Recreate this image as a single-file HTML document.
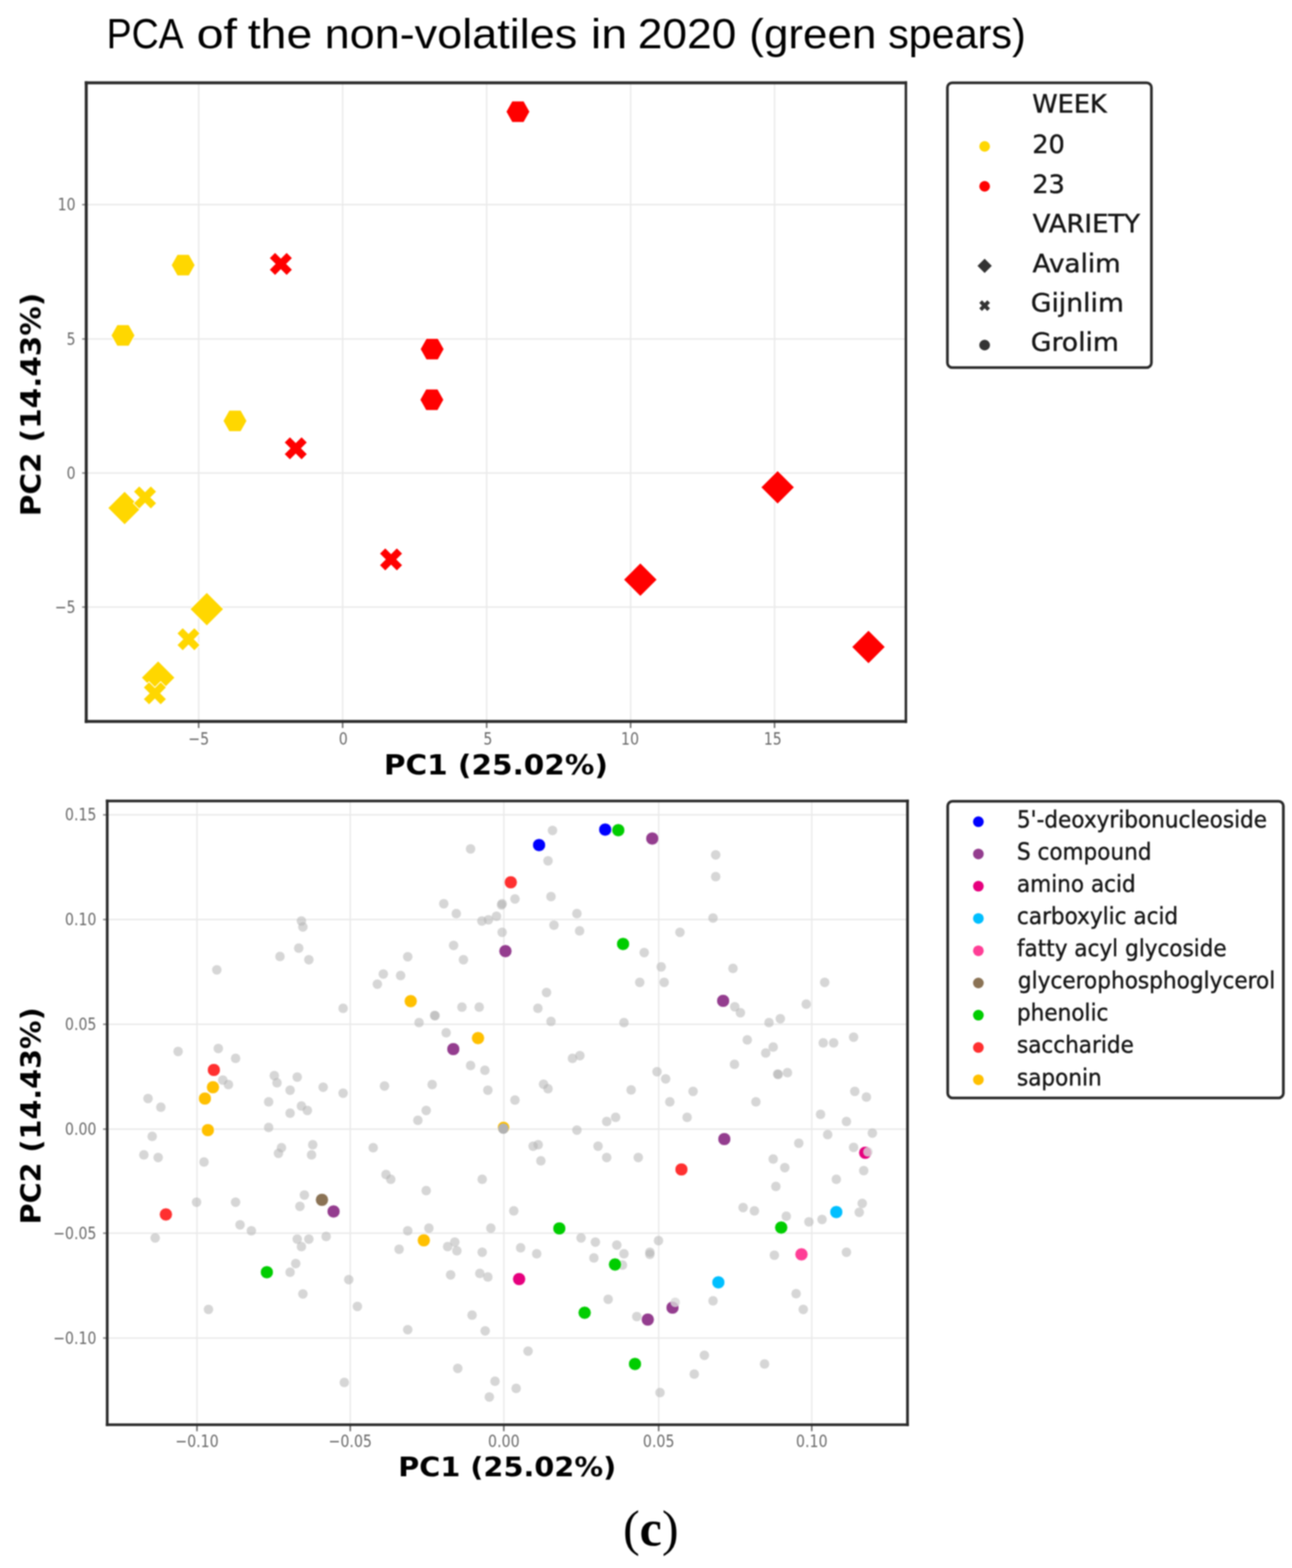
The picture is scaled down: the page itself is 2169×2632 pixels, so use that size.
<!DOCTYPE html>
<html lang="en"><head><meta charset="utf-8"><title>PCA of the non-volatiles in 2020 (green spears)</title>
<style>html,body{margin:0;padding:0;background:#fff}svg{display:block}</style></head>
<body>
<svg width="2169" height="2632" viewBox="0 0 2169 2632" role="img" aria-label="PCA score and loading plots">
<rect width="2169" height="2632" fill="#fff"/>
<g style="filter:blur(0.9px)">
<text id="title" y="81" font-family="Liberation Sans, sans-serif" font-size="71" fill="#000" xml:space="preserve"><tspan x="178.9" textLength="126.0" lengthAdjust="spacingAndGlyphs">PCA</tspan> <tspan x="330.0" textLength="68.0" lengthAdjust="spacingAndGlyphs">of</tspan> <tspan x="416.0" textLength="108.2" lengthAdjust="spacingAndGlyphs">the</tspan> <tspan x="544.9" textLength="424.2" lengthAdjust="spacingAndGlyphs">non-volatiles</tspan> <tspan x="992.1" textLength="60.7" lengthAdjust="spacingAndGlyphs">in</tspan> <tspan x="1070.8" textLength="165.3" lengthAdjust="spacingAndGlyphs">2020</tspan> <tspan x="1257.8" textLength="213.5" lengthAdjust="spacingAndGlyphs">(green</tspan> <tspan x="1490.9" textLength="231.2" lengthAdjust="spacingAndGlyphs">spears)</tspan></text>
<line x1="333.5" y1="139" x2="333.5" y2="1211" stroke="#eaeaea" stroke-width="2.4"/>
<line x1="575.2" y1="139" x2="575.2" y2="1211" stroke="#eaeaea" stroke-width="2.4"/>
<line x1="817" y1="139" x2="817" y2="1211" stroke="#eaeaea" stroke-width="2.4"/>
<line x1="1058.7" y1="139" x2="1058.7" y2="1211" stroke="#eaeaea" stroke-width="2.4"/>
<line x1="1300.3" y1="139" x2="1300.3" y2="1211" stroke="#eaeaea" stroke-width="2.4"/>
<line x1="144.8" y1="343.5" x2="1520.8" y2="343.5" stroke="#eaeaea" stroke-width="2.4"/>
<line x1="144.8" y1="569" x2="1520.8" y2="569" stroke="#eaeaea" stroke-width="2.4"/>
<line x1="144.8" y1="794" x2="1520.8" y2="794" stroke="#eaeaea" stroke-width="2.4"/>
<line x1="144.8" y1="1019" x2="1520.8" y2="1019" stroke="#eaeaea" stroke-width="2.4"/>
<polygon points="209.20,824.52 237.48,852.80 209.20,881.08 180.92,852.80" fill="#ffd700" stroke="#fff" stroke-width="1.5" stroke-linejoin="miter"/>
<polygon points="347.20,994.22 375.48,1022.50 347.20,1050.78 318.92,1022.50" fill="#ffd700" stroke="#fff" stroke-width="1.5" stroke-linejoin="miter"/>
<polygon points="265.50,1109.22 293.78,1137.50 265.50,1165.78 237.22,1137.50" fill="#ffd700" stroke="#fff" stroke-width="1.5" stroke-linejoin="miter"/>
<polygon points="1305.50,789.72 1333.78,818.00 1305.50,846.28 1277.22,818.00" fill="#ff0000" stroke="#fff" stroke-width="1.5" stroke-linejoin="miter"/>
<polygon points="1075.00,944.72 1103.28,973.00 1075.00,1001.28 1046.72,973.00" fill="#ff0000" stroke="#fff" stroke-width="1.5" stroke-linejoin="miter"/>
<polygon points="1458.00,1057.72 1486.28,1086.00 1458.00,1114.28 1429.72,1086.00" fill="#ff0000" stroke="#fff" stroke-width="1.5" stroke-linejoin="miter"/>
<polygon points="233.75,815.50 243.50,825.25 253.25,815.50 263.00,825.25 253.25,835.00 263.00,844.75 253.25,854.50 243.50,844.75 233.75,854.50 224.00,844.75 233.75,835.00 224.00,825.25" fill="#ffd700" stroke="#fff" stroke-width="1.5" stroke-linejoin="miter"/>
<polygon points="306.75,1053.50 316.50,1063.25 326.25,1053.50 336.00,1063.25 326.25,1073.00 336.00,1082.75 326.25,1092.50 316.50,1082.75 306.75,1092.50 297.00,1082.75 306.75,1073.00 297.00,1063.25" fill="#ffd700" stroke="#fff" stroke-width="1.5" stroke-linejoin="miter"/>
<polygon points="250.25,1144.20 260.00,1153.95 269.75,1144.20 279.50,1153.95 269.75,1163.70 279.50,1173.45 269.75,1183.20 260.00,1173.45 250.25,1183.20 240.50,1173.45 250.25,1163.70 240.50,1153.95" fill="#ffd700" stroke="#fff" stroke-width="1.5" stroke-linejoin="miter"/>
<polygon points="461.75,423.50 471.50,433.25 481.25,423.50 491.00,433.25 481.25,443.00 491.00,452.75 481.25,462.50 471.50,452.75 461.75,462.50 452.00,452.75 461.75,443.00 452.00,433.25" fill="#ff0000" stroke="#fff" stroke-width="1.5" stroke-linejoin="miter"/>
<polygon points="486.75,733.00 496.50,742.75 506.25,733.00 516.00,742.75 506.25,752.50 516.00,762.25 506.25,772.00 496.50,762.25 486.75,772.00 477.00,762.25 486.75,752.50 477.00,742.75" fill="#ff0000" stroke="#fff" stroke-width="1.5" stroke-linejoin="miter"/>
<polygon points="646.75,919.50 656.50,929.25 666.25,919.50 676.00,929.25 666.25,939.00 676.00,948.75 666.25,958.50 656.50,948.75 646.75,958.50 637.00,948.75 646.75,939.00 637.00,929.25" fill="#ff0000" stroke="#fff" stroke-width="1.5" stroke-linejoin="miter"/>
<polygon points="327.50,445.00 317.50,462.93 297.50,462.93 287.50,445.00 297.50,427.07 317.50,427.07" fill="#ffd700" stroke="#fff" stroke-width="1.5" stroke-linejoin="miter"/>
<polygon points="226.50,563.00 216.50,580.93 196.50,580.93 186.50,563.00 196.50,545.07 216.50,545.07" fill="#ffd700" stroke="#fff" stroke-width="1.5" stroke-linejoin="miter"/>
<polygon points="414.50,706.50 404.50,724.43 384.50,724.43 374.50,706.50 384.50,688.57 404.50,688.57" fill="#ffd700" stroke="#fff" stroke-width="1.5" stroke-linejoin="miter"/>
<polygon points="889.50,187.50 879.50,205.43 859.50,205.43 849.50,187.50 859.50,169.57 879.50,169.57" fill="#ff0000" stroke="#fff" stroke-width="1.5" stroke-linejoin="miter"/>
<polygon points="745.50,586.00 735.50,603.93 715.50,603.93 705.50,586.00 715.50,568.07 735.50,568.07" fill="#ff0000" stroke="#fff" stroke-width="1.5" stroke-linejoin="miter"/>
<polygon points="745.00,671.00 735.00,688.93 715.00,688.93 705.00,671.00 715.00,653.07 735.00,653.07" fill="#ff0000" stroke="#fff" stroke-width="1.5" stroke-linejoin="miter"/>
<line x1="333.5" y1="1211" x2="333.5" y2="1222" stroke="#6a6a6a" stroke-width="2.5"/>
<line x1="575.2" y1="1211" x2="575.2" y2="1222" stroke="#6a6a6a" stroke-width="2.5"/>
<line x1="817" y1="1211" x2="817" y2="1222" stroke="#6a6a6a" stroke-width="2.5"/>
<line x1="1058.7" y1="1211" x2="1058.7" y2="1222" stroke="#6a6a6a" stroke-width="2.5"/>
<line x1="1300.3" y1="1211" x2="1300.3" y2="1222" stroke="#6a6a6a" stroke-width="2.5"/>
<line x1="137.8" y1="343.5" x2="144.8" y2="343.5" stroke="#8a8a8a" stroke-width="2.5"/>
<line x1="137.8" y1="569" x2="144.8" y2="569" stroke="#8a8a8a" stroke-width="2.5"/>
<line x1="137.8" y1="794" x2="144.8" y2="794" stroke="#8a8a8a" stroke-width="2.5"/>
<line x1="137.8" y1="1019" x2="144.8" y2="1019" stroke="#8a8a8a" stroke-width="2.5"/>
<line x1="144.8" y1="136.5" x2="144.8" y2="1213.5" stroke="#2b2b2b" stroke-width="5"/>
<line x1="1520.8" y1="136.5" x2="1520.8" y2="1213.5" stroke="#2b2b2b" stroke-width="4.2"/>
<line x1="142.3" y1="139" x2="1522.8999999999999" y2="139" stroke="#2b2b2b" stroke-width="5"/>
<line x1="142.3" y1="1211" x2="1522.8999999999999" y2="1211" stroke="#2b2b2b" stroke-width="5"/>
<text transform="translate(333.50 1250.00) scale(0.8200 1.0000)" font-family="DejaVu Sans, Liberation Sans, sans-serif" font-size="29" font-weight="normal" fill="#6a6a6a" text-anchor="middle" class="tk">−5</text>
<text transform="translate(576.20 1250.00) scale(0.8200 1.0000)" font-family="DejaVu Sans, Liberation Sans, sans-serif" font-size="29" font-weight="normal" fill="#6a6a6a" text-anchor="middle" class="tk">0</text>
<text transform="translate(819.00 1250.00) scale(0.8200 1.0000)" font-family="DejaVu Sans, Liberation Sans, sans-serif" font-size="29" font-weight="normal" fill="#6a6a6a" text-anchor="middle" class="tk">5</text>
<text transform="translate(1057.70 1250.00) scale(0.8200 1.0000)" font-family="DejaVu Sans, Liberation Sans, sans-serif" font-size="29" font-weight="normal" fill="#6a6a6a" text-anchor="middle" class="tk">10</text>
<text transform="translate(1297.30 1250.00) scale(0.8200 1.0000)" font-family="DejaVu Sans, Liberation Sans, sans-serif" font-size="29" font-weight="normal" fill="#6a6a6a" text-anchor="middle" class="tk">15</text>
<text transform="translate(127.00 353.00) scale(0.8200 1.0000)" font-family="DejaVu Sans, Liberation Sans, sans-serif" font-size="29" font-weight="normal" fill="#6a6a6a" text-anchor="end" class="tk">10</text>
<text transform="translate(127.00 578.50) scale(0.8200 1.0000)" font-family="DejaVu Sans, Liberation Sans, sans-serif" font-size="29" font-weight="normal" fill="#6a6a6a" text-anchor="end" class="tk">5</text>
<text transform="translate(127.00 803.50) scale(0.8200 1.0000)" font-family="DejaVu Sans, Liberation Sans, sans-serif" font-size="29" font-weight="normal" fill="#6a6a6a" text-anchor="end" class="tk">0</text>
<text transform="translate(127.00 1028.50) scale(0.8200 1.0000)" font-family="DejaVu Sans, Liberation Sans, sans-serif" font-size="29" font-weight="normal" fill="#6a6a6a" text-anchor="end" class="tk">−5</text>
<text transform="translate(832.50 1300.00) scale(1.0550 1.0000)" font-family="DejaVu Sans, Liberation Sans, sans-serif" font-size="47" font-weight="bold" fill="#000" text-anchor="middle" id="xl1">PC1 (25.02%)</text>
<text transform="translate(68.00 679.00) rotate(-90) scale(1.0520 1.0000)" font-family="DejaVu Sans, Liberation Sans, sans-serif" font-size="47" font-weight="bold" fill="#000" text-anchor="middle" id="yl1">PC2 (14.43%)</text>
<rect x="1590.5" y="139" width="342.5" height="478" rx="8" fill="#fff" stroke="#2b2b2b" stroke-width="4.5"/>
<text transform="translate(1733.00 189.40)" font-family="DejaVu Sans, Liberation Sans, sans-serif" font-size="43" font-weight="normal" fill="#161616" text-anchor="start" class="lg1" stroke="#161616" stroke-width="0.7">WEEK</text>
<text transform="translate(1733.00 256.90)" font-family="DejaVu Sans, Liberation Sans, sans-serif" font-size="43" font-weight="normal" fill="#161616" text-anchor="start" class="lg1" stroke="#161616" stroke-width="0.7">20</text>
<text transform="translate(1733.00 323.65)" font-family="DejaVu Sans, Liberation Sans, sans-serif" font-size="43" font-weight="normal" fill="#161616" text-anchor="start" class="lg1" stroke="#161616" stroke-width="0.7">23</text>
<text transform="translate(1733.80 389.90) scale(1.0100 1.0000)" font-family="DejaVu Sans, Liberation Sans, sans-serif" font-size="43" font-weight="normal" fill="#161616" text-anchor="start" class="lg1" stroke="#161616" stroke-width="0.7">VARIETY</text>
<text transform="translate(1733.50 456.90) scale(1.0230 1.0000)" font-family="DejaVu Sans, Liberation Sans, sans-serif" font-size="43" font-weight="normal" fill="#161616" text-anchor="start" class="lg1" stroke="#161616" stroke-width="0.7">Avalim</text>
<text transform="translate(1730.50 523.15) scale(1.0400 1.0000)" font-family="DejaVu Sans, Liberation Sans, sans-serif" font-size="43" font-weight="normal" fill="#161616" text-anchor="start" class="lg1" stroke="#161616" stroke-width="0.7">Gijnlim</text>
<text transform="translate(1730.50 589.40) scale(1.0400 1.0000)" font-family="DejaVu Sans, Liberation Sans, sans-serif" font-size="43" font-weight="normal" fill="#161616" text-anchor="start" class="lg1" stroke="#161616" stroke-width="0.7">Grolim</text>
<circle cx="1653" cy="245.75" r="9" fill="#ffd700"/>
<circle cx="1653" cy="312.75" r="9" fill="#ff0000"/>
<polygon points="1653,434.25 1665,446.25 1653,458.25 1641,446.25" fill="#333"/>
<polygon points="1648.50,504.00 1653.00,508.50 1657.50,504.00 1662.00,508.50 1657.50,513.00 1662.00,517.50 1657.50,522.00 1653.00,517.50 1648.50,522.00 1644.00,517.50 1648.50,513.00 1644.00,508.50" fill="#333"/>
<circle cx="1653" cy="579.25" r="9" fill="#333"/>
<line x1="330.7" y1="1344.5" x2="330.7" y2="2391.5" stroke="#eaeaea" stroke-width="2.4"/>
<line x1="588" y1="1344.5" x2="588" y2="2391.5" stroke="#eaeaea" stroke-width="2.4"/>
<line x1="845.8" y1="1344.5" x2="845.8" y2="2391.5" stroke="#eaeaea" stroke-width="2.4"/>
<line x1="1105.8" y1="1344.5" x2="1105.8" y2="2391.5" stroke="#eaeaea" stroke-width="2.4"/>
<line x1="1362.8" y1="1344.5" x2="1362.8" y2="2391.5" stroke="#eaeaea" stroke-width="2.4"/>
<line x1="180" y1="1367.8" x2="1523.5" y2="1367.8" stroke="#eaeaea" stroke-width="2.4"/>
<line x1="180" y1="1543.5" x2="1523.5" y2="1543.5" stroke="#eaeaea" stroke-width="2.4"/>
<line x1="180" y1="1719.3" x2="1523.5" y2="1719.3" stroke="#eaeaea" stroke-width="2.4"/>
<line x1="180" y1="1895.3" x2="1523.5" y2="1895.3" stroke="#eaeaea" stroke-width="2.4"/>
<line x1="180" y1="2070" x2="1523.5" y2="2070" stroke="#eaeaea" stroke-width="2.4"/>
<line x1="180" y1="2246" x2="1523.5" y2="2246" stroke="#eaeaea" stroke-width="2.4"/>
<circle cx="790.0" cy="1425.0" r="8.0" fill="#b4b4b4" fill-opacity="0.55"/>
<circle cx="745.0" cy="1517.0" r="8.0" fill="#b4b4b4" fill-opacity="0.55"/>
<circle cx="842.0" cy="1519.0" r="8.0" fill="#b4b4b4" fill-opacity="0.55"/>
<circle cx="843.0" cy="1517.0" r="8.0" fill="#b4b4b4" fill-opacity="0.55"/>
<circle cx="766.0" cy="1533.5" r="8.0" fill="#b4b4b4" fill-opacity="0.55"/>
<circle cx="809.0" cy="1546.0" r="8.0" fill="#b4b4b4" fill-opacity="0.55"/>
<circle cx="820.0" cy="1544.0" r="8.0" fill="#b4b4b4" fill-opacity="0.55"/>
<circle cx="833.5" cy="1538.0" r="8.0" fill="#b4b4b4" fill-opacity="0.55"/>
<circle cx="506.0" cy="1546.0" r="8.0" fill="#b4b4b4" fill-opacity="0.55"/>
<circle cx="508.5" cy="1556.0" r="8.0" fill="#b4b4b4" fill-opacity="0.55"/>
<circle cx="843.0" cy="1565.0" r="8.0" fill="#b4b4b4" fill-opacity="0.55"/>
<circle cx="761.5" cy="1587.0" r="8.0" fill="#b4b4b4" fill-opacity="0.55"/>
<circle cx="501.5" cy="1591.5" r="8.0" fill="#b4b4b4" fill-opacity="0.55"/>
<circle cx="470.0" cy="1605.5" r="8.0" fill="#b4b4b4" fill-opacity="0.55"/>
<circle cx="518.5" cy="1611.0" r="8.0" fill="#b4b4b4" fill-opacity="0.55"/>
<circle cx="684.5" cy="1606.0" r="8.0" fill="#b4b4b4" fill-opacity="0.55"/>
<circle cx="778.0" cy="1611.0" r="8.0" fill="#b4b4b4" fill-opacity="0.55"/>
<circle cx="364.0" cy="1628.0" r="8.0" fill="#b4b4b4" fill-opacity="0.55"/>
<circle cx="643.5" cy="1635.0" r="8.0" fill="#b4b4b4" fill-opacity="0.55"/>
<circle cx="672.5" cy="1637.5" r="8.0" fill="#b4b4b4" fill-opacity="0.55"/>
<circle cx="633.5" cy="1652.0" r="8.0" fill="#b4b4b4" fill-opacity="0.55"/>
<circle cx="576.0" cy="1692.5" r="8.0" fill="#b4b4b4" fill-opacity="0.55"/>
<circle cx="775.5" cy="1690.5" r="8.0" fill="#b4b4b4" fill-opacity="0.55"/>
<circle cx="804.5" cy="1690.5" r="8.0" fill="#b4b4b4" fill-opacity="0.55"/>
<circle cx="729.5" cy="1704.5" r="8.0" fill="#b4b4b4" fill-opacity="0.55"/>
<circle cx="730.5" cy="1705.0" r="8.0" fill="#b4b4b4" fill-opacity="0.55"/>
<circle cx="703.5" cy="1716.5" r="8.0" fill="#b4b4b4" fill-opacity="0.55"/>
<circle cx="749.0" cy="1733.5" r="8.0" fill="#b4b4b4" fill-opacity="0.55"/>
<circle cx="299.0" cy="1765.0" r="8.0" fill="#b4b4b4" fill-opacity="0.55"/>
<circle cx="366.5" cy="1760.0" r="8.0" fill="#b4b4b4" fill-opacity="0.55"/>
<circle cx="395.5" cy="1776.5" r="8.0" fill="#b4b4b4" fill-opacity="0.55"/>
<circle cx="790.0" cy="1788.5" r="8.0" fill="#b4b4b4" fill-opacity="0.55"/>
<circle cx="814.0" cy="1796.5" r="8.0" fill="#b4b4b4" fill-opacity="0.55"/>
<circle cx="460.5" cy="1805.5" r="8.0" fill="#b4b4b4" fill-opacity="0.55"/>
<circle cx="499.0" cy="1808.0" r="8.0" fill="#b4b4b4" fill-opacity="0.55"/>
<circle cx="465.0" cy="1817.5" r="8.0" fill="#b4b4b4" fill-opacity="0.55"/>
<circle cx="374.0" cy="1813.0" r="8.0" fill="#b4b4b4" fill-opacity="0.55"/>
<circle cx="383.5" cy="1820.5" r="8.0" fill="#b4b4b4" fill-opacity="0.55"/>
<circle cx="542.5" cy="1825.0" r="8.0" fill="#b4b4b4" fill-opacity="0.55"/>
<circle cx="645.5" cy="1823.0" r="8.0" fill="#b4b4b4" fill-opacity="0.55"/>
<circle cx="725.5" cy="1820.5" r="8.0" fill="#b4b4b4" fill-opacity="0.55"/>
<circle cx="487.0" cy="1830.0" r="8.0" fill="#b4b4b4" fill-opacity="0.55"/>
<circle cx="819.0" cy="1830.0" r="8.0" fill="#b4b4b4" fill-opacity="0.55"/>
<circle cx="576.0" cy="1835.0" r="8.0" fill="#b4b4b4" fill-opacity="0.55"/>
<circle cx="248.5" cy="1844.0" r="8.0" fill="#b4b4b4" fill-opacity="0.55"/>
<circle cx="451.0" cy="1849.5" r="8.0" fill="#b4b4b4" fill-opacity="0.55"/>
<circle cx="270.0" cy="1858.5" r="8.0" fill="#b4b4b4" fill-opacity="0.55"/>
<circle cx="506.0" cy="1856.5" r="8.0" fill="#b4b4b4" fill-opacity="0.55"/>
<circle cx="516.0" cy="1864.0" r="8.0" fill="#b4b4b4" fill-opacity="0.55"/>
<circle cx="487.0" cy="1868.5" r="8.0" fill="#b4b4b4" fill-opacity="0.55"/>
<circle cx="715.5" cy="1864.0" r="8.0" fill="#b4b4b4" fill-opacity="0.55"/>
<circle cx="701.5" cy="1880.5" r="8.0" fill="#b4b4b4" fill-opacity="0.55"/>
<circle cx="451.0" cy="1892.5" r="8.0" fill="#b4b4b4" fill-opacity="0.55"/>
<circle cx="255.5" cy="1907.5" r="8.0" fill="#b4b4b4" fill-opacity="0.55"/>
<circle cx="525.0" cy="1921.5" r="8.0" fill="#b4b4b4" fill-opacity="0.55"/>
<circle cx="472.5" cy="1926.5" r="8.0" fill="#b4b4b4" fill-opacity="0.55"/>
<circle cx="626.5" cy="1926.5" r="8.0" fill="#b4b4b4" fill-opacity="0.55"/>
<circle cx="241.5" cy="1938.5" r="8.0" fill="#b4b4b4" fill-opacity="0.55"/>
<circle cx="265.5" cy="1943.0" r="8.0" fill="#b4b4b4" fill-opacity="0.55"/>
<circle cx="467.5" cy="1936.0" r="8.0" fill="#b4b4b4" fill-opacity="0.55"/>
<circle cx="523.0" cy="1938.5" r="8.0" fill="#b4b4b4" fill-opacity="0.55"/>
<circle cx="342.5" cy="1950.5" r="8.0" fill="#b4b4b4" fill-opacity="0.55"/>
<circle cx="648.0" cy="1971.5" r="8.0" fill="#b4b4b4" fill-opacity="0.55"/>
<circle cx="656.0" cy="1979.5" r="8.0" fill="#b4b4b4" fill-opacity="0.55"/>
<circle cx="809.5" cy="1979.5" r="8.0" fill="#b4b4b4" fill-opacity="0.55"/>
<circle cx="715.5" cy="1998.5" r="8.0" fill="#b4b4b4" fill-opacity="0.55"/>
<circle cx="511.0" cy="2006.0" r="8.0" fill="#b4b4b4" fill-opacity="0.55"/>
<circle cx="330.0" cy="2018.0" r="8.0" fill="#b4b4b4" fill-opacity="0.55"/>
<circle cx="395.5" cy="2018.0" r="8.0" fill="#b4b4b4" fill-opacity="0.55"/>
<circle cx="503.5" cy="2025.0" r="8.0" fill="#b4b4b4" fill-opacity="0.55"/>
<circle cx="403.0" cy="2056.0" r="8.0" fill="#b4b4b4" fill-opacity="0.55"/>
<circle cx="422.0" cy="2066.0" r="8.0" fill="#b4b4b4" fill-opacity="0.55"/>
<circle cx="684.5" cy="2066.0" r="8.0" fill="#b4b4b4" fill-opacity="0.55"/>
<circle cx="720.0" cy="2061.5" r="8.0" fill="#b4b4b4" fill-opacity="0.55"/>
<circle cx="824.0" cy="2061.5" r="8.0" fill="#b4b4b4" fill-opacity="0.55"/>
<circle cx="260.5" cy="2078.0" r="8.0" fill="#b4b4b4" fill-opacity="0.55"/>
<circle cx="499.0" cy="2080.0" r="8.0" fill="#b4b4b4" fill-opacity="0.55"/>
<circle cx="518.5" cy="2080.0" r="8.0" fill="#b4b4b4" fill-opacity="0.55"/>
<circle cx="547.5" cy="2075.5" r="8.0" fill="#b4b4b4" fill-opacity="0.55"/>
<circle cx="763.5" cy="2085.0" r="8.0" fill="#b4b4b4" fill-opacity="0.55"/>
<circle cx="751.5" cy="2092.5" r="8.0" fill="#b4b4b4" fill-opacity="0.55"/>
<circle cx="506.0" cy="2092.5" r="8.0" fill="#b4b4b4" fill-opacity="0.55"/>
<circle cx="670.0" cy="2097.0" r="8.0" fill="#b4b4b4" fill-opacity="0.55"/>
<circle cx="767.0" cy="2099.5" r="8.0" fill="#b4b4b4" fill-opacity="0.55"/>
<circle cx="809.5" cy="2102.0" r="8.0" fill="#b4b4b4" fill-opacity="0.55"/>
<circle cx="496.5" cy="2121.0" r="8.0" fill="#b4b4b4" fill-opacity="0.55"/>
<circle cx="487.0" cy="2135.5" r="8.0" fill="#b4b4b4" fill-opacity="0.55"/>
<circle cx="756.5" cy="2140.0" r="8.0" fill="#b4b4b4" fill-opacity="0.55"/>
<circle cx="805.5" cy="2137.5" r="8.0" fill="#b4b4b4" fill-opacity="0.55"/>
<circle cx="819.0" cy="2143.5" r="8.0" fill="#b4b4b4" fill-opacity="0.55"/>
<circle cx="585.5" cy="2148.0" r="8.0" fill="#b4b4b4" fill-opacity="0.55"/>
<circle cx="508.5" cy="2172.0" r="8.0" fill="#b4b4b4" fill-opacity="0.55"/>
<circle cx="600.0" cy="2193.0" r="8.0" fill="#b4b4b4" fill-opacity="0.55"/>
<circle cx="350.0" cy="2198.0" r="8.0" fill="#b4b4b4" fill-opacity="0.55"/>
<circle cx="792.5" cy="2207.5" r="8.0" fill="#b4b4b4" fill-opacity="0.55"/>
<circle cx="684.5" cy="2232.0" r="8.0" fill="#b4b4b4" fill-opacity="0.55"/>
<circle cx="814.5" cy="2234.0" r="8.0" fill="#b4b4b4" fill-opacity="0.55"/>
<circle cx="768.5" cy="2297.0" r="8.0" fill="#b4b4b4" fill-opacity="0.55"/>
<circle cx="578.0" cy="2320.5" r="8.0" fill="#b4b4b4" fill-opacity="0.55"/>
<circle cx="831.0" cy="2318.5" r="8.0" fill="#b4b4b4" fill-opacity="0.55"/>
<circle cx="821.5" cy="2345.0" r="8.0" fill="#b4b4b4" fill-opacity="0.55"/>
<circle cx="927.5" cy="1394.0" r="8.0" fill="#b4b4b4" fill-opacity="0.55"/>
<circle cx="920.0" cy="1445.0" r="8.0" fill="#b4b4b4" fill-opacity="0.55"/>
<circle cx="1201.5" cy="1435.0" r="8.0" fill="#b4b4b4" fill-opacity="0.55"/>
<circle cx="1201.5" cy="1471.5" r="8.0" fill="#b4b4b4" fill-opacity="0.55"/>
<circle cx="864.5" cy="1509.0" r="8.0" fill="#b4b4b4" fill-opacity="0.55"/>
<circle cx="925.0" cy="1505.0" r="8.0" fill="#b4b4b4" fill-opacity="0.55"/>
<circle cx="968.5" cy="1533.5" r="8.0" fill="#b4b4b4" fill-opacity="0.55"/>
<circle cx="1197.0" cy="1541.0" r="8.0" fill="#b4b4b4" fill-opacity="0.55"/>
<circle cx="930.0" cy="1553.0" r="8.0" fill="#b4b4b4" fill-opacity="0.55"/>
<circle cx="973.0" cy="1562.5" r="8.0" fill="#b4b4b4" fill-opacity="0.55"/>
<circle cx="1141.5" cy="1565.0" r="8.0" fill="#b4b4b4" fill-opacity="0.55"/>
<circle cx="1081.5" cy="1599.0" r="8.0" fill="#b4b4b4" fill-opacity="0.55"/>
<circle cx="1110.0" cy="1623.0" r="8.0" fill="#b4b4b4" fill-opacity="0.55"/>
<circle cx="1230.5" cy="1625.5" r="8.0" fill="#b4b4b4" fill-opacity="0.55"/>
<circle cx="1074.0" cy="1649.0" r="8.0" fill="#b4b4b4" fill-opacity="0.55"/>
<circle cx="1115.0" cy="1649.0" r="8.0" fill="#b4b4b4" fill-opacity="0.55"/>
<circle cx="1384.5" cy="1649.0" r="8.0" fill="#b4b4b4" fill-opacity="0.55"/>
<circle cx="917.5" cy="1666.0" r="8.0" fill="#b4b4b4" fill-opacity="0.55"/>
<circle cx="1353.5" cy="1685.5" r="8.0" fill="#b4b4b4" fill-opacity="0.55"/>
<circle cx="903.0" cy="1692.5" r="8.0" fill="#b4b4b4" fill-opacity="0.55"/>
<circle cx="1233.5" cy="1690.0" r="8.0" fill="#b4b4b4" fill-opacity="0.55"/>
<circle cx="1243.0" cy="1700.0" r="8.0" fill="#b4b4b4" fill-opacity="0.55"/>
<circle cx="925.0" cy="1714.5" r="8.0" fill="#b4b4b4" fill-opacity="0.55"/>
<circle cx="1047.5" cy="1716.5" r="8.0" fill="#b4b4b4" fill-opacity="0.55"/>
<circle cx="1310.0" cy="1710.0" r="8.0" fill="#b4b4b4" fill-opacity="0.55"/>
<circle cx="1291.0" cy="1716.5" r="8.0" fill="#b4b4b4" fill-opacity="0.55"/>
<circle cx="1433.0" cy="1741.0" r="8.0" fill="#b4b4b4" fill-opacity="0.55"/>
<circle cx="1254.5" cy="1745.5" r="8.0" fill="#b4b4b4" fill-opacity="0.55"/>
<circle cx="1382.0" cy="1750.5" r="8.0" fill="#b4b4b4" fill-opacity="0.55"/>
<circle cx="1399.5" cy="1750.5" r="8.0" fill="#b4b4b4" fill-opacity="0.55"/>
<circle cx="1298.0" cy="1757.5" r="8.0" fill="#b4b4b4" fill-opacity="0.55"/>
<circle cx="1285.5" cy="1767.5" r="8.0" fill="#b4b4b4" fill-opacity="0.55"/>
<circle cx="961.0" cy="1776.5" r="8.0" fill="#b4b4b4" fill-opacity="0.55"/>
<circle cx="973.5" cy="1772.0" r="8.0" fill="#b4b4b4" fill-opacity="0.55"/>
<circle cx="1233.0" cy="1786.5" r="8.0" fill="#b4b4b4" fill-opacity="0.55"/>
<circle cx="1103.0" cy="1799.0" r="8.0" fill="#b4b4b4" fill-opacity="0.55"/>
<circle cx="1305.5" cy="1803.0" r="8.0" fill="#b4b4b4" fill-opacity="0.55"/>
<circle cx="1306.5" cy="1803.5" r="8.0" fill="#b4b4b4" fill-opacity="0.55"/>
<circle cx="1322.0" cy="1800.5" r="8.0" fill="#b4b4b4" fill-opacity="0.55"/>
<circle cx="1117.5" cy="1811.0" r="8.0" fill="#b4b4b4" fill-opacity="0.55"/>
<circle cx="912.5" cy="1820.0" r="8.0" fill="#b4b4b4" fill-opacity="0.55"/>
<circle cx="920.0" cy="1827.5" r="8.0" fill="#b4b4b4" fill-opacity="0.55"/>
<circle cx="1059.5" cy="1829.5" r="8.0" fill="#b4b4b4" fill-opacity="0.55"/>
<circle cx="1163.5" cy="1832.0" r="8.0" fill="#b4b4b4" fill-opacity="0.55"/>
<circle cx="1435.0" cy="1832.0" r="8.0" fill="#b4b4b4" fill-opacity="0.55"/>
<circle cx="1454.5" cy="1841.5" r="8.0" fill="#b4b4b4" fill-opacity="0.55"/>
<circle cx="864.5" cy="1846.5" r="8.0" fill="#b4b4b4" fill-opacity="0.55"/>
<circle cx="1124.5" cy="1849.5" r="8.0" fill="#b4b4b4" fill-opacity="0.55"/>
<circle cx="1269.0" cy="1849.5" r="8.0" fill="#b4b4b4" fill-opacity="0.55"/>
<circle cx="1377.5" cy="1870.5" r="8.0" fill="#b4b4b4" fill-opacity="0.55"/>
<circle cx="1033.5" cy="1875.5" r="8.0" fill="#b4b4b4" fill-opacity="0.55"/>
<circle cx="1018.5" cy="1882.5" r="8.0" fill="#b4b4b4" fill-opacity="0.55"/>
<circle cx="1153.5" cy="1875.5" r="8.0" fill="#b4b4b4" fill-opacity="0.55"/>
<circle cx="1421.0" cy="1882.5" r="8.0" fill="#b4b4b4" fill-opacity="0.55"/>
<circle cx="968.5" cy="1897.0" r="8.0" fill="#b4b4b4" fill-opacity="0.55"/>
<circle cx="1464.5" cy="1902.0" r="8.0" fill="#b4b4b4" fill-opacity="0.55"/>
<circle cx="1389.5" cy="1904.5" r="8.0" fill="#b4b4b4" fill-opacity="0.55"/>
<circle cx="1341.0" cy="1919.0" r="8.0" fill="#b4b4b4" fill-opacity="0.55"/>
<circle cx="895.0" cy="1924.0" r="8.0" fill="#b4b4b4" fill-opacity="0.55"/>
<circle cx="903.5" cy="1921.5" r="8.0" fill="#b4b4b4" fill-opacity="0.55"/>
<circle cx="1004.0" cy="1924.0" r="8.0" fill="#b4b4b4" fill-opacity="0.55"/>
<circle cx="1433.0" cy="1926.0" r="8.0" fill="#b4b4b4" fill-opacity="0.55"/>
<circle cx="1018.5" cy="1943.0" r="8.0" fill="#b4b4b4" fill-opacity="0.55"/>
<circle cx="1071.5" cy="1943.0" r="8.0" fill="#b4b4b4" fill-opacity="0.55"/>
<circle cx="908.0" cy="1948.5" r="8.0" fill="#b4b4b4" fill-opacity="0.55"/>
<circle cx="1298.0" cy="1945.5" r="8.0" fill="#b4b4b4" fill-opacity="0.55"/>
<circle cx="1317.5" cy="1960.0" r="8.0" fill="#b4b4b4" fill-opacity="0.55"/>
<circle cx="1450.0" cy="1965.0" r="8.0" fill="#b4b4b4" fill-opacity="0.55"/>
<circle cx="1404.0" cy="1979.5" r="8.0" fill="#b4b4b4" fill-opacity="0.55"/>
<circle cx="1302.5" cy="1991.5" r="8.0" fill="#b4b4b4" fill-opacity="0.55"/>
<circle cx="1447.5" cy="2020.0" r="8.0" fill="#b4b4b4" fill-opacity="0.55"/>
<circle cx="1247.5" cy="2027.0" r="8.0" fill="#b4b4b4" fill-opacity="0.55"/>
<circle cx="1266.5" cy="2032.5" r="8.0" fill="#b4b4b4" fill-opacity="0.55"/>
<circle cx="862.5" cy="2032.5" r="8.0" fill="#b4b4b4" fill-opacity="0.55"/>
<circle cx="1442.5" cy="2035.0" r="8.0" fill="#b4b4b4" fill-opacity="0.55"/>
<circle cx="1320.0" cy="2041.5" r="8.0" fill="#b4b4b4" fill-opacity="0.55"/>
<circle cx="1380.0" cy="2047.0" r="8.0" fill="#b4b4b4" fill-opacity="0.55"/>
<circle cx="1358.0" cy="2051.0" r="8.0" fill="#b4b4b4" fill-opacity="0.55"/>
<circle cx="975.5" cy="2078.0" r="8.0" fill="#b4b4b4" fill-opacity="0.55"/>
<circle cx="1105.5" cy="2082.5" r="8.0" fill="#b4b4b4" fill-opacity="0.55"/>
<circle cx="999.5" cy="2085.0" r="8.0" fill="#b4b4b4" fill-opacity="0.55"/>
<circle cx="1035.5" cy="2090.0" r="8.0" fill="#b4b4b4" fill-opacity="0.55"/>
<circle cx="874.0" cy="2094.5" r="8.0" fill="#b4b4b4" fill-opacity="0.55"/>
<circle cx="1421.0" cy="2102.0" r="8.0" fill="#b4b4b4" fill-opacity="0.55"/>
<circle cx="901.0" cy="2104.5" r="8.0" fill="#b4b4b4" fill-opacity="0.55"/>
<circle cx="1047.5" cy="2104.5" r="8.0" fill="#b4b4b4" fill-opacity="0.55"/>
<circle cx="1091.0" cy="2102.0" r="8.0" fill="#b4b4b4" fill-opacity="0.55"/>
<circle cx="1091.0" cy="2105.5" r="8.0" fill="#b4b4b4" fill-opacity="0.55"/>
<circle cx="1300.0" cy="2107.0" r="8.0" fill="#b4b4b4" fill-opacity="0.55"/>
<circle cx="997.0" cy="2111.5" r="8.0" fill="#b4b4b4" fill-opacity="0.55"/>
<circle cx="1045.0" cy="2123.5" r="8.0" fill="#b4b4b4" fill-opacity="0.55"/>
<circle cx="1336.5" cy="2171.5" r="8.0" fill="#b4b4b4" fill-opacity="0.55"/>
<circle cx="1021.0" cy="2181.0" r="8.0" fill="#b4b4b4" fill-opacity="0.55"/>
<circle cx="1197.0" cy="2183.5" r="8.0" fill="#b4b4b4" fill-opacity="0.55"/>
<circle cx="1348.5" cy="2198.0" r="8.0" fill="#b4b4b4" fill-opacity="0.55"/>
<circle cx="1069.0" cy="2210.0" r="8.0" fill="#b4b4b4" fill-opacity="0.55"/>
<circle cx="886.5" cy="2268.0" r="8.0" fill="#b4b4b4" fill-opacity="0.55"/>
<circle cx="1182.5" cy="2275.0" r="8.0" fill="#b4b4b4" fill-opacity="0.55"/>
<circle cx="1283.5" cy="2289.5" r="8.0" fill="#b4b4b4" fill-opacity="0.55"/>
<circle cx="1165.5" cy="2306.5" r="8.0" fill="#b4b4b4" fill-opacity="0.55"/>
<circle cx="866.5" cy="2330.5" r="8.0" fill="#b4b4b4" fill-opacity="0.55"/>
<circle cx="1108.0" cy="2337.5" r="8.0" fill="#b4b4b4" fill-opacity="0.55"/>
<circle cx="689.5" cy="1680.5" r="10.8" fill="#ffc000" stroke="#fff" stroke-width="1"/>
<circle cx="761.0" cy="1761.0" r="10.8" fill="#943d8f" stroke="#fff" stroke-width="1"/>
<circle cx="359.0" cy="1796.0" r="10.8" fill="#ff3030" stroke="#fff" stroke-width="1"/>
<circle cx="357.5" cy="1825.0" r="10.8" fill="#ffc000" stroke="#fff" stroke-width="1"/>
<circle cx="344.0" cy="1844.0" r="10.8" fill="#ffc000" stroke="#fff" stroke-width="1"/>
<circle cx="349.0" cy="1897.0" r="10.8" fill="#ffc000" stroke="#fff" stroke-width="1"/>
<circle cx="540.5" cy="2014.0" r="10.8" fill="#8b7355" stroke="#fff" stroke-width="1"/>
<circle cx="560.0" cy="2033.5" r="10.8" fill="#943d8f" stroke="#fff" stroke-width="1"/>
<circle cx="278.5" cy="2038.5" r="10.8" fill="#ff3030" stroke="#fff" stroke-width="1"/>
<circle cx="711.5" cy="2082.0" r="10.8" fill="#ffc000" stroke="#fff" stroke-width="1"/>
<circle cx="448.0" cy="2135.5" r="10.8" fill="#00cd00" stroke="#fff" stroke-width="1"/>
<circle cx="905.0" cy="1418.5" r="10.8" fill="#0000ff" stroke="#fff" stroke-width="1"/>
<circle cx="1016.0" cy="1392.5" r="10.8" fill="#0000ff" stroke="#fff" stroke-width="1"/>
<circle cx="1038.0" cy="1393.5" r="10.8" fill="#00cd00" stroke="#fff" stroke-width="1"/>
<circle cx="1095.0" cy="1407.5" r="10.8" fill="#943d8f" stroke="#fff" stroke-width="1"/>
<circle cx="857.5" cy="1481.0" r="10.8" fill="#ff3030" stroke="#fff" stroke-width="1"/>
<circle cx="848.5" cy="1596.5" r="10.8" fill="#943d8f" stroke="#fff" stroke-width="1"/>
<circle cx="1046.0" cy="1584.5" r="10.8" fill="#00cd00" stroke="#fff" stroke-width="1"/>
<circle cx="1214.0" cy="1680.0" r="10.8" fill="#943d8f" stroke="#fff" stroke-width="1"/>
<circle cx="802.5" cy="1742.5" r="10.8" fill="#ffc000" stroke="#fff" stroke-width="1"/>
<circle cx="1216.0" cy="1912.0" r="10.8" fill="#943d8f" stroke="#fff" stroke-width="1"/>
<circle cx="1144.0" cy="1963.0" r="10.8" fill="#ff3030" stroke="#fff" stroke-width="1"/>
<circle cx="1452.5" cy="1935.0" r="10.8" fill="#e6007e" stroke="#fff" stroke-width="1"/>
<circle cx="1404.0" cy="2034.5" r="10.8" fill="#00bfff" stroke="#fff" stroke-width="1"/>
<circle cx="939.0" cy="2062.0" r="10.8" fill="#00cd00" stroke="#fff" stroke-width="1"/>
<circle cx="1311.5" cy="2060.5" r="10.8" fill="#00cd00" stroke="#fff" stroke-width="1"/>
<circle cx="1345.5" cy="2105.5" r="10.8" fill="#ff3e96" stroke="#fff" stroke-width="1"/>
<circle cx="1032.5" cy="2122.5" r="10.8" fill="#00cd00" stroke="#fff" stroke-width="1"/>
<circle cx="871.5" cy="2147.0" r="10.8" fill="#e6007e" stroke="#fff" stroke-width="1"/>
<circle cx="1206.0" cy="2152.5" r="10.8" fill="#00bfff" stroke="#fff" stroke-width="1"/>
<circle cx="981.5" cy="2203.5" r="10.8" fill="#00cd00" stroke="#fff" stroke-width="1"/>
<circle cx="1129.0" cy="2195.0" r="10.8" fill="#943d8f" stroke="#fff" stroke-width="1"/>
<circle cx="1087.5" cy="2215.0" r="10.8" fill="#943d8f" stroke="#fff" stroke-width="1"/>
<circle cx="1066.0" cy="2289.5" r="10.8" fill="#00cd00" stroke="#fff" stroke-width="1"/>
<circle cx="845.3" cy="1892.5" r="10.2" fill="#ffc000" stroke="#fff" stroke-width="1"/>
<circle cx="845.0" cy="1894.5" r="8.8" fill="#b2b2b2"/>
<circle cx="1457.0" cy="1933.5" r="8.0" fill="#d8d8d8" fill-opacity="0.8"/>
<circle cx="1133.5" cy="2186.0" r="8.0" fill="#d8d8d8" fill-opacity="0.8"/>
<line x1="330.7" y1="2391.5" x2="330.7" y2="2402.5" stroke="#6a6a6a" stroke-width="2.5"/>
<line x1="588" y1="2391.5" x2="588" y2="2402.5" stroke="#6a6a6a" stroke-width="2.5"/>
<line x1="845.8" y1="2391.5" x2="845.8" y2="2402.5" stroke="#6a6a6a" stroke-width="2.5"/>
<line x1="1105.8" y1="2391.5" x2="1105.8" y2="2402.5" stroke="#6a6a6a" stroke-width="2.5"/>
<line x1="1362.8" y1="2391.5" x2="1362.8" y2="2402.5" stroke="#6a6a6a" stroke-width="2.5"/>
<line x1="173" y1="1367.8" x2="180" y2="1367.8" stroke="#8a8a8a" stroke-width="2.5"/>
<line x1="173" y1="1543.5" x2="180" y2="1543.5" stroke="#8a8a8a" stroke-width="2.5"/>
<line x1="173" y1="1719.3" x2="180" y2="1719.3" stroke="#8a8a8a" stroke-width="2.5"/>
<line x1="173" y1="1895.3" x2="180" y2="1895.3" stroke="#8a8a8a" stroke-width="2.5"/>
<line x1="173" y1="2070" x2="180" y2="2070" stroke="#8a8a8a" stroke-width="2.5"/>
<line x1="173" y1="2246" x2="180" y2="2246" stroke="#8a8a8a" stroke-width="2.5"/>
<line x1="180" y1="1342.2" x2="180" y2="2393.8" stroke="#2b2b2b" stroke-width="4.6"/>
<line x1="1523.5" y1="1342.2" x2="1523.5" y2="2393.8" stroke="#2b2b2b" stroke-width="4.6"/>
<line x1="177.7" y1="1344.5" x2="1525.8" y2="1344.5" stroke="#2b2b2b" stroke-width="4.6"/>
<line x1="177.7" y1="2391.5" x2="1525.8" y2="2391.5" stroke="#2b2b2b" stroke-width="4.6"/>
<text transform="translate(330.70 2429.00) scale(0.8200 1.0000)" font-family="DejaVu Sans, Liberation Sans, sans-serif" font-size="29" font-weight="normal" fill="#6a6a6a" text-anchor="middle" class="tk">−0.10</text>
<text transform="translate(588.00 2429.00) scale(0.8200 1.0000)" font-family="DejaVu Sans, Liberation Sans, sans-serif" font-size="29" font-weight="normal" fill="#6a6a6a" text-anchor="middle" class="tk">−0.05</text>
<text transform="translate(845.80 2429.00) scale(0.8200 1.0000)" font-family="DejaVu Sans, Liberation Sans, sans-serif" font-size="29" font-weight="normal" fill="#6a6a6a" text-anchor="middle" class="tk">0.00</text>
<text transform="translate(1105.80 2429.00) scale(0.8200 1.0000)" font-family="DejaVu Sans, Liberation Sans, sans-serif" font-size="29" font-weight="normal" fill="#6a6a6a" text-anchor="middle" class="tk">0.05</text>
<text transform="translate(1362.80 2429.00) scale(0.8200 1.0000)" font-family="DejaVu Sans, Liberation Sans, sans-serif" font-size="29" font-weight="normal" fill="#6a6a6a" text-anchor="middle" class="tk">0.10</text>
<text transform="translate(162.00 1377.30) scale(0.8200 1.0000)" font-family="DejaVu Sans, Liberation Sans, sans-serif" font-size="29" font-weight="normal" fill="#6a6a6a" text-anchor="end" class="tk">0.15</text>
<text transform="translate(162.00 1553.00) scale(0.8200 1.0000)" font-family="DejaVu Sans, Liberation Sans, sans-serif" font-size="29" font-weight="normal" fill="#6a6a6a" text-anchor="end" class="tk">0.10</text>
<text transform="translate(162.00 1728.80) scale(0.8200 1.0000)" font-family="DejaVu Sans, Liberation Sans, sans-serif" font-size="29" font-weight="normal" fill="#6a6a6a" text-anchor="end" class="tk">0.05</text>
<text transform="translate(162.00 1904.80) scale(0.8200 1.0000)" font-family="DejaVu Sans, Liberation Sans, sans-serif" font-size="29" font-weight="normal" fill="#6a6a6a" text-anchor="end" class="tk">0.00</text>
<text transform="translate(162.00 2079.50) scale(0.8200 1.0000)" font-family="DejaVu Sans, Liberation Sans, sans-serif" font-size="29" font-weight="normal" fill="#6a6a6a" text-anchor="end" class="tk">−0.05</text>
<text transform="translate(162.00 2255.50) scale(0.8200 1.0000)" font-family="DejaVu Sans, Liberation Sans, sans-serif" font-size="29" font-weight="normal" fill="#6a6a6a" text-anchor="end" class="tk">−0.10</text>
<text transform="translate(851.50 2477.80) scale(1.0650 1.0000)" font-family="DejaVu Sans, Liberation Sans, sans-serif" font-size="45.3" font-weight="bold" fill="#000" text-anchor="middle" id="xl2">PC1 (25.02%)</text>
<text transform="translate(68.00 1873.00) rotate(-90) scale(1.0220 1.0000)" font-family="DejaVu Sans, Liberation Sans, sans-serif" font-size="47" font-weight="bold" fill="#000" text-anchor="middle" id="yl2">PC2 (14.43%)</text>
<rect x="1591" y="1345" width="563.5" height="498" rx="8" fill="#fff" stroke="#2b2b2b" stroke-width="4.6"/>
<circle cx="1642.5" cy="1379.3" r="9" fill="#0000ff"/>
<text transform="translate(1707.30 1388.50) scale(1.0060 1.0900)" font-family="DejaVu Sans, Liberation Sans, sans-serif" font-size="36" font-weight="normal" fill="#161616" text-anchor="start" class="lg2" stroke="#161616" stroke-width="0.6">5'-deoxyribonucleoside</text>
<circle cx="1642.5" cy="1433.4" r="9" fill="#943d8f"/>
<text transform="translate(1707.30 1442.64) scale(1.0060 1.0900)" font-family="DejaVu Sans, Liberation Sans, sans-serif" font-size="36" font-weight="normal" fill="#161616" text-anchor="start" class="lg2" stroke="#161616" stroke-width="0.6">S compound</text>
<circle cx="1642.5" cy="1487.6" r="9" fill="#e6007e"/>
<text transform="translate(1707.30 1496.78) scale(1.0060 1.0900)" font-family="DejaVu Sans, Liberation Sans, sans-serif" font-size="36" font-weight="normal" fill="#161616" text-anchor="start" class="lg2" stroke="#161616" stroke-width="0.6">amino acid</text>
<circle cx="1642.5" cy="1541.7" r="9" fill="#00bfff"/>
<text transform="translate(1707.30 1550.92) scale(1.0060 1.0900)" font-family="DejaVu Sans, Liberation Sans, sans-serif" font-size="36" font-weight="normal" fill="#161616" text-anchor="start" class="lg2" stroke="#161616" stroke-width="0.6">carboxylic acid</text>
<circle cx="1642.5" cy="1595.9" r="9" fill="#ff3e96"/>
<text transform="translate(1707.30 1605.06) scale(1.0060 1.0900)" font-family="DejaVu Sans, Liberation Sans, sans-serif" font-size="36" font-weight="normal" fill="#161616" text-anchor="start" class="lg2" stroke="#161616" stroke-width="0.6">fatty acyl glycoside</text>
<circle cx="1642.5" cy="1650.0" r="9" fill="#8b7355"/>
<text transform="translate(1708.80 1659.20) scale(1.0090 1.0900)" font-family="DejaVu Sans, Liberation Sans, sans-serif" font-size="36" font-weight="normal" fill="#161616" text-anchor="start" class="lg2" stroke="#161616" stroke-width="0.6">glycerophosphoglycerol</text>
<circle cx="1642.5" cy="1704.1" r="9" fill="#00cd00"/>
<text transform="translate(1707.30 1713.34) scale(1.0060 1.0900)" font-family="DejaVu Sans, Liberation Sans, sans-serif" font-size="36" font-weight="normal" fill="#161616" text-anchor="start" class="lg2" stroke="#161616" stroke-width="0.6">phenolic</text>
<circle cx="1642.5" cy="1758.3" r="9" fill="#ff3030"/>
<text transform="translate(1707.30 1767.48) scale(1.0060 1.0900)" font-family="DejaVu Sans, Liberation Sans, sans-serif" font-size="36" font-weight="normal" fill="#161616" text-anchor="start" class="lg2" stroke="#161616" stroke-width="0.6">saccharide</text>
<circle cx="1642.5" cy="1812.4" r="9" fill="#ffc000"/>
<text transform="translate(1707.30 1821.62) scale(1.0060 1.0900)" font-family="DejaVu Sans, Liberation Sans, sans-serif" font-size="36" font-weight="normal" fill="#161616" text-anchor="start" class="lg2" stroke="#161616" stroke-width="0.6">saponin</text>
<text id="cap" transform="translate(1092.5 2594)" font-family="Liberation Serif, serif" font-size="84" fill="#000" text-anchor="middle"><tspan font-weight="normal">(</tspan><tspan font-weight="bold">c</tspan><tspan font-weight="normal">)</tspan></text>
</g>
</svg>
</body></html>
